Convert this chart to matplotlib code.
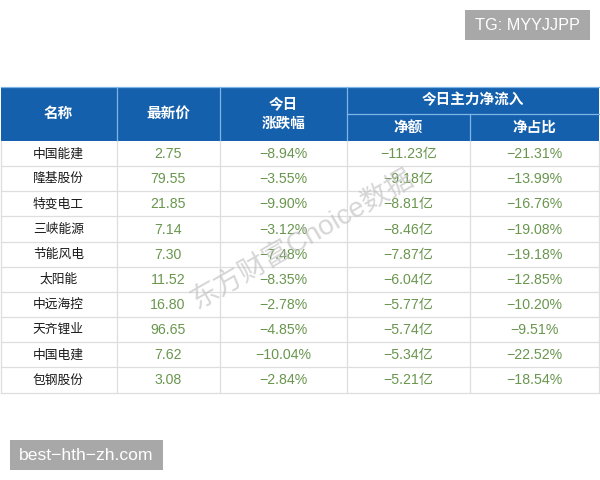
import matplotlib
matplotlib.use("Agg")
import matplotlib.pyplot as plt
from matplotlib.patches import Rectangle

plt.rcParams['font.family'] = ['Liberation Sans', 'Noto Sans CJK SC', 'DejaVu Sans']

names = ["中国能建", "隆基股份", "特变电工", "三峡能源", "节能风电", "太阳能", "中远海控", "天齐锂业", "中国电建", "包钢股份"]
prices = ["2.75", "79.55", "21.85", "7.14", "7.30", "11.52", "16.80", "96.65", "7.62", "3.08"]
changes = ["−8.94%", "−3.55%", "−9.90%", "−3.12%", "−7.48%", "−8.35%", "−2.78%", "−4.85%", "−10.04%", "−2.84%"]
net_amount = ["−11.23亿", "−9.18亿", "−8.81亿", "−8.46亿", "−7.87亿", "−6.04亿", "−5.77亿", "−5.74亿", "−5.34亿", "−5.21亿"]
net_ratio = ["−21.31%", "−13.99%", "−16.76%", "−19.08%", "−19.18%", "−12.85%", "−10.20%", "−9.51%", "−22.52%", "−18.54%"]

BLUE, LBLUE, GRID, GREEN, INK, GREY = "#1560AC", "#7DB6E6", "#DEDEDE", "#69964E", "#1A1A1A", "#A8A8A8"
X = [1, 116.5, 219.5, 347, 469.5, 599]
TOP, MID, HB, BOT = 87, 114, 141, 392.5

fig = plt.figure(figsize=(6, 4.8), dpi=100, facecolor="white")
ax = fig.add_axes([0, 0, 1, 1])
ax.set_xlim(0, 600)
ax.set_ylim(480, 0)
ax.axis("off")

# header
ax.add_patch(Rectangle((X[0], TOP), X[-1] - X[0], HB - TOP, fc=BLUE, ec="none", zorder=1))
ax.plot([X[0], X[-1]], [TOP, TOP], color=LBLUE, lw=0.9, zorder=2)
ax.plot([X[3], X[-1]], [MID, MID], color=LBLUE, lw=0.9, zorder=2)
for x in X[1:4]:
    ax.plot([x, x], [TOP, HB], color=LBLUE, lw=0.9, zorder=2)
ax.plot([X[4], X[4]], [MID, HB], color=LBLUE, lw=0.9, zorder=2)

hd = dict(color="white", ha="center", va="center", fontsize=10.5, fontweight="bold", zorder=3)
cx = [(X[i] + X[i + 1]) / 2 for i in range(5)]
ax.text(cx[0] - 0.5, 114, "名称", **hd)
ax.text(cx[1], 114, "最新价", **hd)
ax.text(cx[2], 104.5, "今日", **hd)
ax.text(cx[2], 123.5, "涨跌幅", **hd)
ax.text((X[3] + X[5]) / 2 - 0.5, 100.5, "今日主力净流入", **hd)
ax.text(cx[3], 128, "净额", **hd)
ax.text(cx[4], 128, "净占比", **hd)

# body
n = len(names)
rh = (BOT - HB) / n
for i in range(1, n + 1):
    y = HB + i * rh
    ax.plot([X[0], X[-1]], [y, y], color=GRID, lw=0.9, zorder=2)
for x in X:
    ax.plot([x, x], [HB, BOT], color=GRID, lw=0.9, zorder=2)
for i in range(n):
    y = HB + (i + 0.5) * rh + 0.5
    ax.text(cx[0] - 0.5, y, names[i], color=INK, ha="center", va="center", fontsize=9.2, zorder=3)
    for c, col in zip(cx[1:], (prices, changes, net_amount, net_ratio)):
        ax.text(c, y, col[i], color=GREEN, ha="center", va="center", fontsize=10.2, zorder=3)

# watermark
ax.text(303, 241, "东方财富Choice数据", color="#BBBBBB", alpha=0.6, fontsize=20, rotation=30,
        rotation_mode="anchor", ha="center", va="center", zorder=4)

# badges
ax.add_patch(Rectangle((465, 10), 125, 30, fc=GREY, ec="none", zorder=5))
ax.text(527, 25.5, "TG: MYYJJPP", color="white", ha="center", va="center", fontsize=11.7, zorder=6)
ax.add_patch(Rectangle((10, 440), 153, 30, fc=GREY, ec="none", zorder=5))
ax.text(86.5, 455.5, "best−hth−zh.com", color="white", ha="center", va="center", fontsize=12.6, zorder=6)

fig.savefig("out.png", dpi=100)
